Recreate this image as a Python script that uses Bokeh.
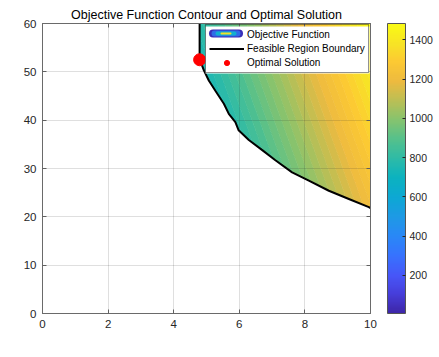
import numpy as np
from bokeh.plotting import figure
from bokeh.models import (LinearColorMapper, ColorBar, FixedTicker, Legend, LegendItem,
                          Label, BoxAnnotation, Range1d, LinearAxis)
from bokeh.embed import file_html
from bokeh.resources import INLINE

# ---------------- data ----------------
x1_ticks = [0, 2, 4, 6, 8, 10]
x2_ticks = [0, 10, 20, 30, 40, 50, 60]
cbar_ticks = [200, 400, 600, 800, 1000, 1200, 1400]
cbar_low, cbar_high = 6.0, 1484.0

# objective function (linear, coefficients estimated from the colours)
obj_coef_x1 = 132.0
obj_coef_x2 = 7.0
obj_const = -260.0
n_levels = 50

# feasible-region boundary
boundary_x1 = [4.79, 4.79, 4.92, 5.07, 5.27, 5.53, 5.68, 5.88, 5.98, 6.29,
               6.70, 7.10, 7.61, 8.12, 8.73, 9.34, 9.95, 10.0]
boundary_x2 = [60.0, 52.7, 50.3, 48.2, 46.1, 43.4, 41.3, 39.6, 37.9, 35.9,
               33.8, 31.7, 29.2, 27.5, 25.4, 23.7, 22.0, 21.8]

opt_x1 = [4.79]
opt_x2 = [52.5]

# ---------------- parula-like colormap ----------------
parula_anchors = [
    (0.00, 0.2422, 0.1504, 0.6603), (0.07, 0.2760, 0.2480, 0.8650),
    (0.13, 0.2780, 0.3400, 0.9720), (0.20, 0.2160, 0.4520, 0.9960),
    (0.27, 0.1600, 0.5380, 0.9650), (0.33, 0.1220, 0.6000, 0.9000),
    (0.40, 0.0500, 0.6600, 0.8300), (0.47, 0.0450, 0.7000, 0.7500),
    (0.53, 0.1700, 0.7300, 0.6600), (0.60, 0.3300, 0.7550, 0.5500),
    (0.67, 0.5300, 0.7650, 0.4300), (0.73, 0.7200, 0.7500, 0.3400),
    (0.80, 0.9300, 0.7300, 0.2500), (0.87, 0.9900, 0.7900, 0.2000),
    (0.93, 0.9700, 0.8900, 0.1500), (1.00, 0.9769, 0.9839, 0.0805),
]


def build_palette(anchors, n=256):
    a = np.array(anchors)
    out = []
    for ti in np.linspace(0, 1, n):
        r = np.interp(ti, a[:, 0], a[:, 1])
        g = np.interp(ti, a[:, 0], a[:, 2])
        b = np.interp(ti, a[:, 0], a[:, 3])
        out.append("#%02x%02x%02x" % (int(round(r * 255)), int(round(g * 255)), int(round(b * 255))))
    return out


palette = build_palette(parula_anchors)
mapper = LinearColorMapper(palette=palette, low=cbar_low, high=cbar_high)


def color_at(v):
    k = int(round((v - cbar_low) / (cbar_high - cbar_low) * (len(palette) - 1)))
    return palette[max(0, min(len(palette) - 1, k))]


FONT = "Liberation Sans"
AX = "#262626"
AXL = "#6a6a6a"

p = figure(frame_width=328, frame_height=290,
           min_border_left=42, min_border_right=68, min_border_top=23, min_border_bottom=43,
           x_range=Range1d(0, 10), y_range=Range1d(0, 60),
           output_backend="svg", toolbar_location=None,
           title="Objective Function Contour and Optimal Solution")
p.outline_line_color = AXL
p.outline_line_width = 1

# ---------------- filled contour of the objective ----------------
gx = np.linspace(boundary_x1[0], x1_ticks[-1], 80)
gy = np.linspace(min(boundary_x2) - 3, x2_ticks[-1], 80)
GX, GY = np.meshgrid(gx, gy)
Z = obj_coef_x1 * GX + obj_coef_x2 * GY + obj_const
levels = np.linspace(cbar_low, cbar_high, n_levels + 1)
band_colors = [color_at(0.5 * (levels[i] + levels[i + 1])) for i in range(n_levels)]
level_colors = [color_at(v) for v in levels]
p.contour(x=gx, y=gy, z=Z, levels=list(levels), fill_color=band_colors,
          line_color=level_colors, line_width=1.0)

# white cover for the infeasible part below the boundary
floor_y = gy[0] - 1
left_x = boundary_x1[0] - 0.05
cover_x = boundary_x1[1:] + [boundary_x1[-1], left_x, left_x]
cover_y = boundary_x2[1:] + [floor_y, floor_y, boundary_x2[1]]
p.patch(cover_x, cover_y, fill_color="white", line_color=None)

# boundary and optimum
bline = p.line(boundary_x1, boundary_x2, line_color="black", line_width=2)
odot = p.scatter(opt_x1, opt_x2, size=12, fill_color="#ff0000", line_color="#ff0000")
dummy = p.scatter(x=[], y=[], size=1, fill_alpha=0, line_alpha=0)

# ---------------- axes and grid ----------------
for ax in (p.xaxis[0], p.yaxis[0]):
    ax.axis_line_color = AXL
    ax.major_tick_line_color = AXL
    ax.major_tick_in = 4
    ax.major_tick_out = 0
    ax.minor_tick_line_color = None
    ax.major_label_text_font = FONT
    ax.major_label_text_font_size = "11.5px"
    ax.major_label_text_color = AX
p.xaxis.ticker = FixedTicker(ticks=x1_ticks)
p.yaxis.ticker = FixedTicker(ticks=x2_ticks)
p.xaxis.major_label_standoff = 6
p.yaxis.major_label_standoff = 6

# box ticks on top and right (no labels)
for side, ticks in (("above", x1_ticks), ("right", x2_ticks)):
    a = LinearAxis(ticker=FixedTicker(ticks=ticks), axis_line_color=AXL,
                   major_tick_line_color=AXL, major_tick_in=4, major_tick_out=0,
                   minor_tick_line_color=None, major_label_text_color=None,
                   major_label_text_font_size="1px", major_label_standoff=0)
    p.add_layout(a, side)

p.xgrid.ticker = FixedTicker(ticks=x1_ticks)
p.ygrid.ticker = FixedTicker(ticks=x2_ticks)
p.grid.grid_line_color = AX
p.grid.grid_line_alpha = 0.15
p.grid.level = "guide"

# title
p.title.text_font = FONT
p.title.text_font_size = "12.5px"
p.title.text_font_style = "normal"
p.title.text_color = "#000000"
p.title.align = "center"
p.title.standoff = 3

# axis labels (x with subscript)
p.add_layout(Label(x=160, y=-32, x_units="screen", y_units="screen", text="x",
                   text_font="Liberation Serif", text_font_style="italic",
                   text_font_size="13px", text_align="center", text_baseline="middle",
                   text_color=AX))
p.add_layout(Label(x=166.5, y=-37, x_units="screen", y_units="screen", text="1",
                   text_font=FONT, text_font_size="9.5px", text_align="center",
                   text_baseline="middle", text_color=AX))
p.add_layout(Label(x=-32, y=142, x_units="screen", y_units="screen", text="x",
                   angle=np.pi / 2, text_font="Liberation Serif", text_font_style="italic",
                   text_font_size="13px", text_align="center", text_baseline="middle",
                   text_color=AX))
p.add_layout(Label(x=-30.5, y=150.5, x_units="screen", y_units="screen", text="2",
                   angle=np.pi / 2, text_font=FONT, text_font_size="9.5px",
                   text_align="center", text_baseline="middle", text_color=AX))

# ---------------- legend ----------------
LEG_X, LEG_Y, LEG_PAD, GW, ROW, LEG_W, LEG_H = 163, 240, 3, 35, 13, 164, 47

# opaque white backing for the legend box (drawn before the legend itself)
p.add_layout(BoxAnnotation(left=LEG_X, right=LEG_X + LEG_W, bottom=LEG_Y, top=LEG_Y + LEG_H,
                           left_units="screen", right_units="screen",
                           top_units="screen", bottom_units="screen",
                           fill_color="white", fill_alpha=1.0, line_color=None))

# contour-style legend icon: nested rounded boxes (ellipse-like) for the first row
icon_cx = LEG_X + LEG_PAD + GW / 2
icon_cy = 280
rings = [(17.0, 4, "#3a2fb8"), (14.5, 3, "#2f6ce8"), (10.5, 2, "#12b0d0"), (5.5, 1, "#f2e02a")]
for a_, b_, col in rings:
    p.add_layout(BoxAnnotation(left=icon_cx - a_, right=icon_cx + a_,
                               bottom=icon_cy - b_, top=icon_cy + b_,
                               left_units="screen", right_units="screen",
                               top_units="screen", bottom_units="screen",
                               fill_color=col, fill_alpha=1.0, line_color=None,
                               border_radius=int(b_)))

legend = Legend(items=[LegendItem(label="Objective Function", renderers=[dummy]),
                       LegendItem(label="Feasible Region Boundary", renderers=[bline]),
                       LegendItem(label="Optimal Solution", renderers=[odot])],
                location=(LEG_X, LEG_Y), orientation="vertical", padding=LEG_PAD, spacing=1,
                margin=0, glyph_width=GW, glyph_height=ROW, label_height=ROW,
                label_standoff=3, label_text_font=FONT, label_text_font_size="10px",
                label_text_color="#000000", border_line_color=AX, border_line_width=1,
                background_fill_alpha=0.0)
p.add_layout(legend)

# ---------------- colour bar ----------------
cbar = ColorBar(color_mapper=mapper, ticker=FixedTicker(ticks=cbar_ticks),
                location=(345, 0), width=18, height=290, padding=0, margin=0,
                major_tick_in=3, major_tick_out=0, major_tick_line_color=AX,
                minor_tick_line_color=None, major_label_text_font=FONT,
                major_label_text_font_size="10.5px", major_label_text_color=AX,
                label_standoff=4, bar_line_color="#555555", border_line_color=None,
                background_fill_alpha=0)
p.add_layout(cbar)

open("out.html", "w").write(file_html(p, INLINE))
